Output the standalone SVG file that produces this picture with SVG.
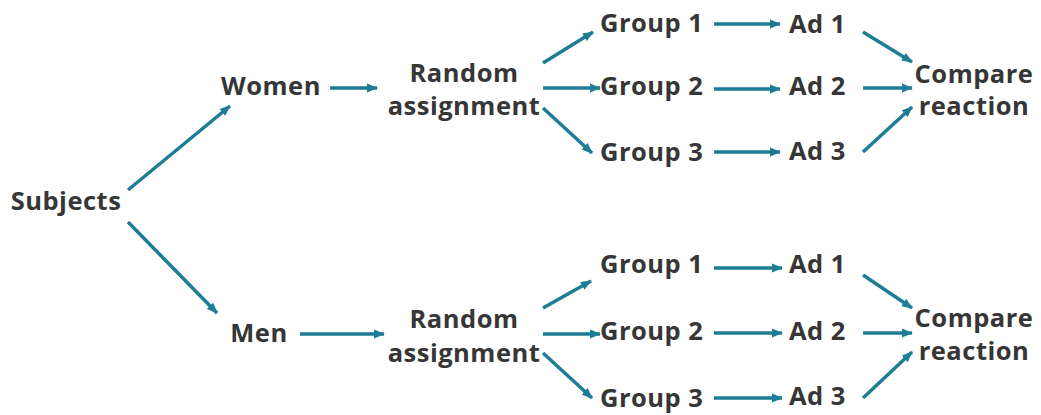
<svg xmlns="http://www.w3.org/2000/svg" width="1041" height="415" viewBox="0 0 1041 415">
<style>
text{font-family:"Open Sans","DejaVu Sans",sans-serif;font-weight:700;font-size:25.5px;letter-spacing:0.5px;fill:#363636}
.c{text-anchor:middle}
.e line{stroke:#1e7d96;stroke-width:3.5;marker-end:url(#ah)}
</style>
<defs>
<marker id="ah" markerUnits="userSpaceOnUse" markerWidth="12" markerHeight="10" refX="10" refY="5" orient="auto">
<path d="M0,0.5 L11,5 L0,9.5 Z" fill="#1e7d96"/>
</marker>
</defs>
<rect width="1041" height="415" fill="#fff"/>
<g class="e" id="connectors">
<line x1="128" y1="190" x2="230" y2="106"/>
<line x1="128" y1="222" x2="217" y2="313"/>
<line x1="330" y1="88" x2="377" y2="88"/>
<line x1="300" y1="334" x2="384" y2="334"/>
<line x1="543" y1="63" x2="593" y2="32"/>
<line x1="543" y1="88" x2="600" y2="88"/>
<line x1="543" y1="108" x2="592" y2="153"/>
<line x1="543" y1="308" x2="591" y2="281"/>
<line x1="543" y1="334" x2="600" y2="334"/>
<line x1="543" y1="353" x2="592" y2="398"/>
<line x1="714" y1="24" x2="780" y2="24"/>
<line x1="714" y1="89" x2="780" y2="89"/>
<line x1="714" y1="152" x2="780" y2="152"/>
<line x1="714" y1="268" x2="782" y2="268"/>
<line x1="714" y1="333" x2="782" y2="333"/>
<line x1="714" y1="398" x2="782" y2="398"/>
<line x1="863" y1="32" x2="912" y2="62"/>
<line x1="863" y1="88" x2="912" y2="88"/>
<line x1="863" y1="152" x2="912" y2="107"/>
<line x1="863" y1="275" x2="912" y2="308"/>
<line x1="863" y1="333" x2="912" y2="333"/>
<line x1="863" y1="398" x2="912" y2="352"/>
</g>
<g id="subjects"><text class="c" x="66" y="210">Subjects</text></g>
<g id="women"><text class="c" x="271" y="95">Women</text></g>
<g id="men"><text class="c" x="259" y="342">Men</text></g>
<g id="random-w"><text class="c" x="464" y="82">Random</text><text class="c" x="464" y="115">assignment</text></g>
<g id="random-m"><text class="c" x="464" y="328">Random</text><text class="c" x="464" y="362">assignment</text></g>
<g id="w-group1"><text x="600" y="32">Group 1</text></g>
<g id="w-group2"><text x="600" y="95">Group 2</text></g>
<g id="w-group3"><text x="600" y="161">Group 3</text></g>
<g id="m-group1"><text x="600" y="273">Group 1</text></g>
<g id="m-group2"><text x="600" y="340">Group 2</text></g>
<g id="m-group3"><text x="600" y="407">Group 3</text></g>
<g id="w-ad1"><text x="789" y="33">Ad 1</text></g>
<g id="w-ad2"><text x="789" y="95">Ad 2</text></g>
<g id="w-ad3"><text x="789" y="160">Ad 3</text></g>
<g id="m-ad1"><text x="789" y="273">Ad 1</text></g>
<g id="m-ad2"><text x="789" y="340">Ad 2</text></g>
<g id="m-ad3"><text x="789" y="405">Ad 3</text></g>
<g id="w-compare"><text class="c" x="974" y="83">Compare</text><text class="c" x="974" y="115">reaction</text></g>
<g id="m-compare"><text class="c" x="974" y="327">Compare</text><text class="c" x="974" y="360">reaction</text></g>
</svg>
